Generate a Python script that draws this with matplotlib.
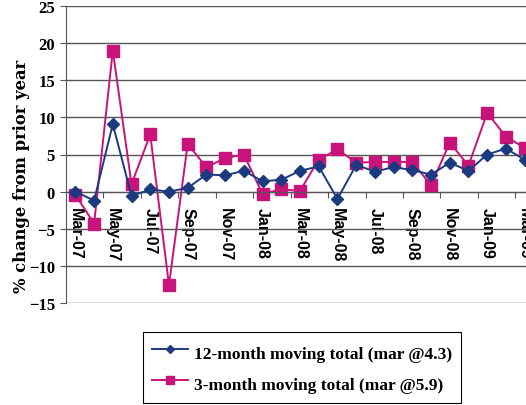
import numpy as np
import matplotlib
matplotlib.use('Agg')
import matplotlib.pyplot as plt

months = ['Mar-07', 'Apr-07', 'May-07', 'Jun-07', 'Jul-07', 'Aug-07', 'Sep-07',
          'Oct-07', 'Nov-07', 'Dec-07', 'Jan-08', 'Feb-08', 'Mar-08', 'Apr-08',
          'May-08', 'Jun-08', 'Jul-08', 'Aug-08', 'Sep-08', 'Oct-08', 'Nov-08',
          'Dec-08', 'Jan-09', 'Feb-09', 'Mar-09']

# % change from prior year
total_12m = [0.0, -1.2, 9.1, -0.6, 0.3, 0.0, 0.5, 2.3, 2.2, 2.8, 1.4, 1.6, 2.8,
             3.4, -1.0, 3.6, 2.7, 3.3, 2.9, 2.3, 3.9, 2.8, 5.0, 5.8, 4.3]
total_3m = [-0.4, -4.3, 19.0, 1.0, 7.7, -12.6, 6.4, 3.3, 4.5, 5.0, -0.3, 0.3, 0.1,
            4.3, 5.7, 3.9, 4.0, 4.0, 4.0, 0.85, 6.6, 3.5, 10.6, 7.4, 5.9]

label_12m = '12-month moving total (mar @4.3)'
label_3m = '3-month moving total (mar @5.9)'

blue = '#1c3a80'
pink = '#c8137a'
grid_col = '#555555'

fig = plt.figure(figsize=(5.26, 4.06), dpi=100)
# axes runs past the right edge of the figure
ax = fig.add_axes([66 / 526, 102 / 406, 468 / 526, 297 / 406])

x = np.arange(len(months))
l1, = ax.plot(x, total_12m, color=blue, lw=1.4, marker='D', ms=6,
              mfc=blue, mec=blue, zorder=3)
l2, = ax.plot(x, total_3m, color=pink, lw=1.4, marker='s', ms=8,
              mfc=pink, mec=pink, zorder=2)

ax.set_xlim(-0.5, len(months) - 0.5)
ax.set_ylim(-15, 25)
ax.set_yticks(np.arange(-15, 26, 5))
ax.yaxis.grid(True, color=grid_col, lw=1.0)
ax.set_axisbelow(True)

for s in ['top', 'right']:
    ax.spines[s].set_visible(False)
ax.spines['left'].set_color(grid_col)
ax.spines['bottom'].set_position(('data', 0))
ax.spines['bottom'].set_color(grid_col)

# tick marks between every other month, labels on the months themselves
ax.set_xticks(np.arange(1.5, len(months), 2))
ax.set_xticklabels([])
ax.set_xticks(x[::2], minor=True)
ax.set_xticklabels(months[::2], minor=True, rotation=270,
                   fontsize=11.5, fontweight='bold', family='Liberation Sans')
ax.tick_params(axis='x', which='major', direction='out', length=4,
               color=grid_col)
ax.tick_params(axis='x', which='minor', length=0, pad=11)
ax.tick_params(axis='y', direction='out', length=4, color=grid_col, pad=4)
for t in ax.get_yticklabels():
    t.set_fontsize(12)
    t.set_fontweight('bold')
    t.set_family('Liberation Serif')

fig.text(22 / 526, 1 - 176 / 406, '% change from prior year', rotation=90,
         ha='center', va='center', fontsize=11.8, fontweight='bold',
         family='DejaVu Serif')

leg = fig.legend([l1, l2], [label_12m, label_3m], loc='upper left',
                 bbox_to_anchor=(143 / 526, 1 - 333 / 406), borderaxespad=0,
                 prop={'family': 'Liberation Serif', 'weight': 'bold', 'size': 12.5},
                 handlelength=2.1, handleheight=1.6, handletextpad=0.35,
                 borderpad=0.5, labelspacing=0.5, markerscale=0.75,
                 fancybox=False, framealpha=1, edgecolor='black')
leg.get_frame().set_linewidth(0.8)

fig.savefig('out.png', dpi=100)
